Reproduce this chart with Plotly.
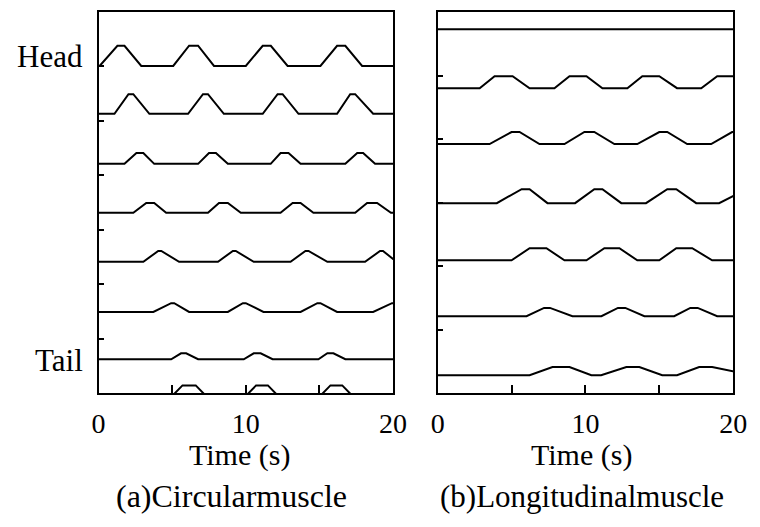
import plotly.graph_objects as go

# time axis (s)
t_start = 0
t_end = 20

# circular muscle: segment baselines / peak levels (head -> tail)
circ_base = [6.01, 5.13, 4.21, 3.31, 2.41, 1.49, 0.62, -0.25]
circ_peak = [6.38, 5.49, 4.41, 3.49, 2.61, 1.65, 0.73, 0.14]
# each pulse: [rise start, peak reached, fall start, back to baseline]
circ_pulses = [
    [[0.07, 1.28, 1.76, 2.9], [5.07, 6.15, 6.76, 7.84], [10.0, 11.15, 11.7, 12.84], [15.07, 16.2, 16.76, 17.9]],
    [[1.08, 2.03, 2.36, 3.45], [6.08, 7.09, 7.43, 8.51], [11.15, 12.16, 12.5, 13.58], [16.2, 17.09, 17.43, 18.65]],
    [[1.76, 2.57, 3.04, 3.78], [6.76, 7.5, 7.97, 8.78], [11.69, 12.36, 12.9, 13.72], [16.76, 17.57, 17.97, 18.78]],
    [[2.36, 3.24, 3.78, 4.59], [7.43, 8.18, 8.78, 9.66], [12.36, 13.18, 13.72, 14.59], [17.43, 18.24, 18.92, 19.86]],
    [[3.04, 4.05, 4.26, 5.47], [8.11, 9.12, 9.32, 10.54], [13.04, 14.05, 14.26, 15.54], [18.1, 19.12, 19.32, 20.24]],
    [[3.72, 4.93, 5.14, 6.15], [8.78, 9.8, 10.0, 11.2], [13.72, 14.86, 15.07, 16.2], [18.65, 19.93, 20.3, 21.4]],
    [[4.93, 5.6, 5.95, 6.76], [9.86, 10.54, 11.01, 11.82], [14.93, 15.54, 15.95, 16.76]],
    [[4.3, 5.7, 6.6, 8.0], [9.3, 10.7, 11.5, 12.9], [14.35, 15.75, 16.55, 17.95]],
]

# longitudinal muscle
long_base = [5.73, 4.80, 3.92, 2.99, 2.09, 1.21, 0.28]
long_peak = [5.73, 4.99, 4.11, 3.21, 2.28, 1.34, 0.41]
long_pulses = [
    [],
    [[2.84, 3.85, 5.07, 6.22], [7.9, 8.92, 10.07, 11.15], [12.84, 13.85, 15.0, 16.2], [17.84, 18.92, 21.0, 22.0]],
    [[3.51, 5.0, 5.54, 6.89], [8.58, 9.93, 10.6, 11.96], [13.51, 15.0, 15.54, 16.89], [18.51, 19.93, 21.0, 22.5]],
    [[4.0, 5.68, 6.22, 7.43], [9.3, 10.6, 11.15, 12.43], [14.1, 15.54, 16.15, 17.5], [19.05, 20.9, 21.5, 22.8]],
    [[5.0, 6.22, 7.36, 8.58], [10.07, 11.28, 12.3, 13.51], [15.0, 16.15, 17.23, 18.58]],
    [[6.01, 7.2, 7.6, 9.12], [11.08, 12.2, 12.7, 13.99], [16.01, 17.1, 17.6, 18.92]],
    [[6.22, 7.77, 8.92, 10.4], [11.06, 12.77, 13.65, 15.2], [16.2, 17.7, 18.58, 21.3]],
]

FONT = "Liberation Serif, Times New Roman, serif"


def trace_xy(base, peak, pulses):
    xs = [t_start]
    ys = [base]
    for p in pulses:
        xs += p
        ys += [base, peak, peak, base]
    if xs[-1] < t_end:
        xs.append(t_end)
        ys.append(base)
    return xs, ys


fig = go.Figure()
for b, pk, pl in zip(circ_base, circ_peak, circ_pulses):
    x, y = trace_xy(b, pk, pl)
    fig.add_trace(go.Scatter(x=x, y=y, mode="lines", line=dict(color="black", width=2),
                             xaxis="x", yaxis="y", showlegend=False))
for b, pk, pl in zip(long_base, long_peak, long_pulses):
    x, y = trace_xy(b, pk, pl)
    fig.add_trace(go.Scatter(x=x, y=y, mode="lines", line=dict(color="black", width=2),
                             xaxis="x2", yaxis="y2", showlegend=False))

# figure sized to fit inside the page's default 8px body margin
W, H = 744, 511
xax = dict(range=[0, 20], tickvals=[0, 5, 10, 15, 20], ticktext=["0", "", "10", "", "20"],
           ticks="inside", ticklen=8, tickwidth=2, tickcolor="black",
           showline=True, linewidth=2, linecolor="black", mirror=True, showgrid=False, zeroline=False,
           tickfont=dict(family=FONT, size=28, color="black"), ticklabelstandoff=4)
yax = dict(ticks="inside", ticklen=5, tickwidth=2, tickcolor="black", showticklabels=False,
           showline=True, linewidth=2, linecolor="black", mirror=True, showgrid=False, zeroline=False)

fig.update_layout(
    width=W, height=H,
    margin=dict(l=0, r=0, t=0, b=0),
    paper_bgcolor="white", plot_bgcolor="white",
    xaxis=dict(xax, domain=[86 / W, 389 / W], anchor="y"),
    xaxis2=dict(xax, domain=[435 / W, 739 / W], anchor="y2"),
    yaxis=dict(yax, domain=[1 - 385 / H, 1 - 4 / H], range=[0, 7], tickvals=[1, 2, 3, 4, 5, 6], anchor="x"),
    yaxis2=dict(yax, domain=[1 - 385 / H, 1 - 4 / H], range=[0, 6], tickvals=[1, 2, 3, 4, 5], anchor="x2"),
)

for txt, xp, yp, xa, sz in [
    ("Head", 72, 48, "right", 31),
    ("Tail", 72, 352, "right", 31),
    ("Time (s)", 231, 447, "center", 30),
    ("Time (s)", 583, 447, "center", 30),
    ("(a)Circularmuscle", 223, 488, "center", 32),
    ("(b)Longitudinalmuscle", 583, 488, "center", 31),
]:
    fig.add_annotation(text=txt, x=xp / W, y=1 - yp / H, xref="paper", yref="paper",
                       xanchor=xa, yanchor="middle", showarrow=False,
                       font=dict(family=FONT, size=sz, color="black"))

fig.write_html("out.html")
